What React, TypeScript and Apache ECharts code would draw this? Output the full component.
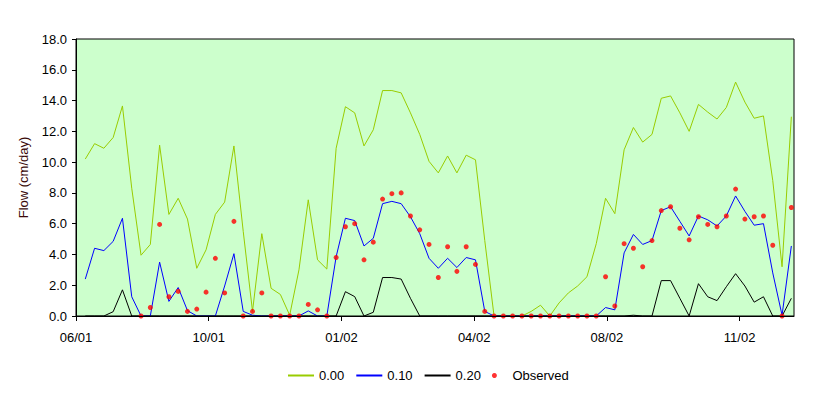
import React, { useEffect, useRef } from "react";
import * as echarts from "echarts";

const tickLabels = ["06/01", "10/01", "01/02", "04/02", "08/02", "11/02"];
const firstDay = 7;
const stepDays = 7;
const seriesNames = ["0.00", "0.10", "0.20", "Observed"];
const lineColors = ["#99cc00", "#0000ff", "#000000"];

const flow000 = [
  10.2, 11.2, 10.9, 11.6, 13.65, 8.3, 3.95, 4.65, 11.1, 6.6,
  7.65, 6.3, 3.1, 4.3, 6.6, 7.4, 11.05, 5.5, 0.3, 5.35,
  1.8, 1.4, 0.05, 3.0, 7.55, 3.65, 3.05, 10.9, 13.6, 13.2,
  11.05, 12.1, 14.65, 14.65, 14.5, 13.2, 11.8, 10.05, 9.3, 10.4,
  9.3, 10.45, 10.15, 4.9, 0, 0, 0, 0, 0.3, 0.7,
  0, 0.85, 1.5, 1.95, 2.55, 4.7, 7.65, 6.65, 10.8, 12.25,
  11.3, 11.8, 14.15, 14.3, 13.2, 12.0, 13.75, 13.25, 12.8, 13.55,
  15.2, 13.9, 12.85, 13.0, 8.8, 3.2, 12.95,
];

const flow010 = [
  2.4, 4.4, 4.25, 4.85, 6.35, 1.25, 0, 0, 3.5, 0.95,
  1.85, 0.35, 0, 0, 0, 1.95, 4.05, 0.3, 0.05, 0,
  0, 0, 0, 0, 0.33, 0, 0, 3.85, 6.35, 6.2,
  4.55, 5.05, 7.3, 7.45, 7.3, 6.45, 5.35, 3.75, 3.1, 3.75,
  3.15, 3.8, 3.65, 0.3, 0, 0, 0, 0, 0, 0,
  0, 0, 0, 0, 0, 0, 0.55, 0.4, 4.1, 5.3,
  4.65, 4.9, 6.85, 7.1, 6.15, 5.2, 6.5, 6.25, 5.85, 6.5,
  7.8, 6.8, 5.9, 6.0, 2.8, 0.05, 4.55,
];

const flow020 = [
  0, 0, 0, 0.28, 1.7, 0, 0, 0, 0, 0,
  0, 0, 0, 0, 0, 0, 0, 0, 0, 0,
  0, 0, 0, 0, 0, 0, 0, 0, 1.58, 1.26,
  0, 0.24, 2.5, 2.5, 2.4, 1.15, 0, 0, 0, 0,
  0, 0, 0, 0, 0, 0, 0, 0, 0, 0,
  0, 0, 0, 0, 0, 0, 0, 0, 0, 0.05,
  0, 0, 2.3, 2.3, 1.15, 0, 2.1, 1.25, 1.0, 1.9,
  2.75, 1.95, 0.9, 1.25, 0, 0, 1.15,
];

const observed: (number | null)[] = [
  null, null, null, null, null, null, 0, 0.55, 5.95, 1.25,
  1.6, 0.3, 0.45, 1.55, 3.75, 1.5, 6.15, 0, 0.3, 1.5,
  0, 0, 0, 0, 0.75, 0.4, 0, 3.8, 5.8, 6.0,
  3.65, 4.8, 7.6, 7.95, 8.0, 6.5, 5.6, 4.65, 2.5, 4.5,
  2.9, 4.5, 3.35, 0.3, 0, 0, 0, 0, 0, 0,
  0, 0, 0, 0, 0, 0, 2.55, 0.65, 4.7, 4.4,
  3.2, 4.9, 6.85, 7.1, 5.7, 4.95, 6.45, 5.95, 5.8, 6.5,
  8.25, 6.3, 6.45, 6.5, 4.6, 0, 7.05,
];

const toPairs = (arr: (number | null)[]) =>
  arr
    .map((v, i) => (v === null ? null : [firstDay + stepDays * i, v]))
    .filter((p) => p !== null) as number[][];

const FONT = "'Liberation Sans', Arial, sans-serif";

export default function App() {
  const ref = useRef<HTMLDivElement>(null);

  useEffect(() => {
    document.body.style.margin = "0";
    if (!ref.current) return;
    const chart = echarts.init(ref.current, undefined, { renderer: "svg" });
    const lineData = [flow000, flow010, flow020];
    chart.setOption({
      animation: false,
      backgroundColor: "#ffffff",
      textStyle: { fontFamily: FONT },
      grid: {
        left: 76,
        top: 39,
        right: 36,
        bottom: 81,
        show: true,
        backgroundColor: "#ccffcc",
        borderColor: "#000000",
        borderWidth: 1,
      },
      legend: {
        left: 282,
        top: 364,
        itemWidth: 26,
        itemHeight: 5,
        itemGap: 11,
        textStyle: { fontFamily: FONT, fontSize: 13, color: "#000000" },
        data: [
          ...lineColors.map((c, i) => ({
            name: seriesNames[i],
            itemStyle: { opacity: 0 },
          })),
          { name: seriesNames[3], icon: "circle" },
        ],
      },
      xAxis: {
        type: "value",
        min: 0,
        max: 541,
        interval: 100,
        z: 5,
        axisLine: { lineStyle: { color: "#000000", width: 1 } },
        axisTick: { show: true, length: 5, lineStyle: { color: "#000000" } },
        splitLine: { show: false },
        axisLabel: {
          margin: 15,
          fontFamily: FONT,
          fontSize: 13,
          color: "#000000",
          showMaxLabel: false,
          formatter: (v: number) => {
            const k = Math.round(v / 100);
            return Math.abs(v - k * 100) < 1e-6 && tickLabels[k] ? tickLabels[k] : "";
          },
        },
      },
      yAxis: {
        type: "value",
        min: 0,
        max: 18,
        interval: 2,
        z: 5,
        name: "Flow (cm/day)",
        nameLocation: "middle",
        nameGap: 46,
        nameTextStyle: { fontFamily: FONT, fontSize: 13, color: "#3a0a0a" },
        axisLine: { show: true, lineStyle: { color: "#000000", width: 1 } },
        axisTick: { show: true, length: 4, lineStyle: { color: "#000000" } },
        splitLine: { show: false },
        axisLabel: {
          margin: 9,
          fontFamily: FONT,
          fontSize: 13,
          color: "#000000",
          formatter: (v: number) => v.toFixed(1),
        },
      },
      series: [
        ...lineColors.map((c, i) => ({
          name: seriesNames[i],
          type: "line",
          data: toPairs(lineData[i]),
          symbol: "none",
          color: c,
          lineStyle: { color: c, width: 1 },
          itemStyle: { color: c },
        })),
        {
          name: seriesNames[3],
          type: "scatter",
          data: toPairs(observed),
          symbol: "circle",
          symbolSize: 5,
          itemStyle: { color: "#ff0000" },
          z: 4,
        },
      ],
    });
    return () => chart.dispose();
  }, []);

  return <div ref={ref} style={{ width: 830, height: 397 }} />;
}
